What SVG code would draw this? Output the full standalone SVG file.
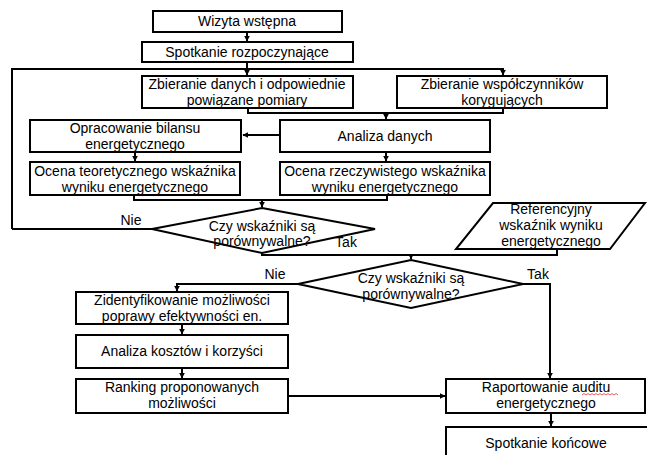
<svg xmlns="http://www.w3.org/2000/svg" width="647" height="455" viewBox="0 0 647 455">
<style>
.b{fill:#fff;stroke:#000;stroke-width:2}
.c{fill:none;stroke:#000;stroke-width:2}
text{font-family:"Liberation Sans",Arial,sans-serif;font-size:14px;fill:#000;text-anchor:middle}
</style>
<defs>
<marker id="a" viewBox="0 0 10 10" refX="9" refY="5" markerWidth="3" markerHeight="3" orient="auto">
<path d="M0,0 L10,5 L0,10 z" fill="#000"/>
</marker>
</defs>
<rect width="647" height="455" fill="#fff"/>
<g id="connectors">
<path class="c" d="M247,32 V41" marker-end="url(#a)"/>
<path class="c" d="M247,62 V75" marker-end="url(#a)"/>
<path class="c" d="M12,229 V69 H503 V75" marker-end="url(#a)"/>
<path class="c" d="M248,108 V113 H503 V108"/>
<path class="c" d="M386,113 V119" marker-end="url(#a)"/>
<path class="c" d="M280,135 H243" marker-end="url(#a)"/>
<path class="c" d="M135,152 V161" marker-end="url(#a)"/>
<path class="c" d="M386,152 V161" marker-end="url(#a)"/>
<path class="c" d="M134,195 V200 H387 V195"/>
<path class="c" d="M262,200 V207" marker-end="url(#a)"/>
<path class="c" d="M152,229 H12"/>
<path class="c" d="M262,253 V255 H557 V249"/>
<path class="c" d="M411,255 V259" marker-end="url(#a)"/>
<path class="c" d="M298,284 H177 V291" marker-end="url(#a)"/>
<path class="c" d="M523,284 H550 V378" marker-end="url(#a)"/>
<path class="c" d="M182,324 V334" marker-end="url(#a)"/>
<path class="c" d="M182,368 V378" marker-end="url(#a)"/>
<path class="c" d="M288,396 H445" marker-end="url(#a)"/>
<path class="c" d="M551,413 V426" marker-end="url(#a)"/>
</g>
<g id="n1"><rect class="b" x="153" y="11" width="189" height="21"/><text x="247" y="26">Wizyta wstępna</text></g>
<g id="n2"><rect class="b" x="142" y="42" width="211" height="20"/><text x="247" y="57">Spotkanie rozpoczynające</text></g>
<g id="n3"><rect class="b" x="142" y="76" width="211" height="32"/><text x="247" y="89">Zbieranie danych i odpowiednie</text><text x="247" y="105">powiązane pomiary</text></g>
<g id="n4"><rect class="b" x="397" y="76" width="210" height="32"/><text x="502" y="89">Zbieranie współczynników</text><text x="502" y="105">korygujących</text></g>
<g id="n5"><rect class="b" x="30" y="120" width="211" height="32"/><text x="135" y="133">Opracowanie bilansu</text><text x="135" y="149">energetycznego</text></g>
<g id="n6"><rect class="b" x="280" y="120" width="210" height="32"/><text x="385" y="141">Analiza danych</text></g>
<g id="n7"><rect class="b" x="30" y="162" width="210" height="33"/><text x="135" y="176">Ocena teoretycznego wskaźnika</text><text x="135" y="192">wyniku energetycznego</text></g>
<g id="n8"><rect class="b" x="280" y="162" width="210" height="33"/><text x="385" y="176">Ocena rzeczywistego wskaźnika</text><text x="385" y="192">wyniku energetycznego</text></g>
<g id="d1"><polygon class="b" points="262,208 375,229 262,253 152,229"/><text x="262" y="231">Czy wskaźniki są</text><text x="262" y="246">porównywalne?</text></g>
<g id="p1"><polygon class="b" points="493,203 645,203 610,249 456,249"/><text x="551" y="214">Referencyjny</text><text x="551" y="230">wskaźnik wyniku</text><text x="551" y="246">energetycznego</text></g>
<g id="d2"><polygon class="b" points="411,260 523,284 411,308 298,284"/><text x="411" y="283">Czy wskaźniki są</text><text x="411" y="299">porównywalne?</text></g>
<g id="n9"><rect class="b" x="76" y="292" width="212" height="32"/><text x="182" y="305">Zidentyfikowanie możliwości</text><text x="182" y="321">poprawy efektywności en.</text></g>
<g id="n10"><rect class="b" x="76" y="335" width="212" height="33"/><text x="182" y="356">Analiza kosztów i korzyści</text></g>
<g id="n11"><rect class="b" x="76" y="379" width="212" height="34"/><text x="182" y="392">Ranking proponowanych</text><text x="182" y="408">możliwości</text></g>
<g id="n12"><rect class="b" x="446" y="379" width="199" height="34"/><text x="546" y="392">Raportowanie auditu</text><text x="546" y="408">energetycznego</text>
<path d="M582,395 l2,-1.5 l2,1.5 l2,-1.5 l2,1.5 l2,-1.5 l2,1.5 l2,-1.5 l2,1.5 l2,-1.5 l2,1.5 l2,-1.5 l2,1.5 l2,-1.5 l2,1.5 l2,-1.5 l2,1.5 l2,-1.5 l2,1.5" fill="none" stroke="#e03030" stroke-width="0.8"/></g>
<g id="n13"><rect class="b" x="446" y="427" width="210" height="40"/><text x="546" y="448">Spotkanie końcowe</text></g>
<g id="labels"><text x="131" y="225">Nie</text><text x="346" y="247">Tak</text><text x="275" y="279">Nie</text><text x="538" y="279">Tak</text></g>
</svg>
